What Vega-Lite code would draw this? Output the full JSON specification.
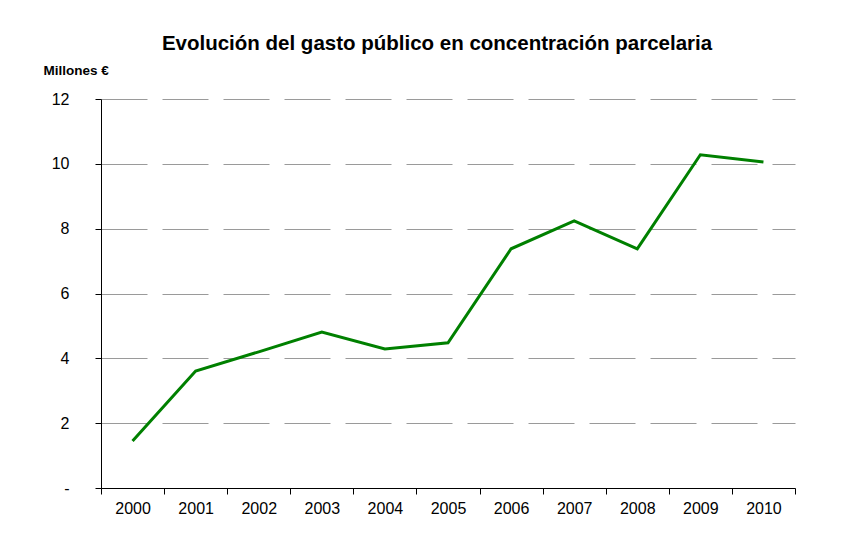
{
  "$schema": "https://vega.github.io/schema/vega-lite/v6.json",
  "width": 694,
  "height": 389,
  "autosize": {"type": "none"},
  "padding": {"left": 101, "top": 99, "right": 63, "bottom": 57},
  "background": "white",
  "title": {
    "text": "Evolución del gasto público en concentración parcelaria",
    "font": "Liberation Sans",
    "fontSize": 20.5,
    "fontWeight": "bold",
    "color": "#000000",
    "anchor": "middle",
    "dx": -11,
    "dy": 53,
    "offset": 46,
    "baseline": "alphabetic"
  },
  "data": {
    "values": [
      {"year": "2000", "value": 1.45},
      {"year": "2001", "value": 3.61},
      {"year": "2002", "value": 4.2},
      {"year": "2003", "value": 4.81},
      {"year": "2004", "value": 4.29},
      {"year": "2005", "value": 4.48},
      {"year": "2006", "value": 7.38},
      {"year": "2007", "value": 8.24},
      {"year": "2008", "value": 7.38},
      {"year": "2009", "value": 10.28},
      {"year": "2010", "value": 10.06}
    ]
  },
  "mark": {"type": "line", "color": "#008000", "strokeWidth": 3},
  "encoding": {
    "x": {
      "field": "year",
      "type": "ordinal",
      "bandPosition": 0.5,
      "scale": {"type": "band", "paddingInner": 0, "paddingOuter": 0},
      "axis": {
        "title": null,
        "labelAngle": 0,
        "tickBand": "extent",
        "grid": false,
        "domainColor": "#000000",
        "tickColor": "#000000",
        "tickSize": 6,
        "labelPadding": 6,
        "labelFont": "Liberation Sans",
        "labelFontSize": 16,
        "labelColor": "#000000"
      }
    },
    "y": {
      "field": "value",
      "type": "quantitative",
      "scale": {"domain": [0, 12], "nice": false},
      "axis": {
        "values": [0, 2, 4, 6, 8, 10, 12],
        "labelExpr": "datum.value == 0 ? '-' : datum.label",
        "title": "Millones €",
        "titleAngle": 0,
        "titleX": -58,
        "titleY": -25,
        "titleAlign": "left",
        "titleBaseline": "alphabetic",
        "titleFont": "Liberation Sans",
        "titleFontSize": 13.5,
        "titleFontWeight": "bold",
        "titleColor": "#000000",
        "grid": true,
        "gridColor": "#9a9a9a",
        "gridDash": [46, 15],
        "gridWidth": 1,
        "domainColor": "#000000",
        "tickColor": "#000000",
        "tickSize": 6,
        "labelPadding": 26,
        "labelFont": "Liberation Sans",
        "labelFontSize": 16,
        "labelColor": "#000000"
      }
    }
  },
  "config": {"view": {"stroke": null}}
}
